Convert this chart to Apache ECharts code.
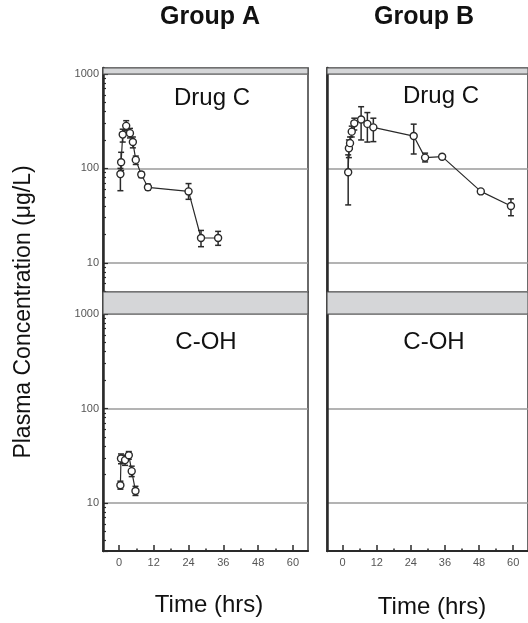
<!DOCTYPE html>
<html><head><meta charset="utf-8">
<script src="https://cdn.jsdelivr.net/npm/echarts@6/dist/echarts.min.js"></script>
<style>html,body{margin:0;padding:0;background:#fff}#c{width:528px;height:623px}</style>
</head><body><div id="c"></div>
<script>
// ---- tick labels ----
const xTickLabels = [0, 12, 24, 36, 48, 60];
const xMinorTicks = [6, 18, 30, 42, 54];
const yTickLabels = [10, 100, 1000];
const yMinorTicksTop = [5, 6, 7, 8, 9, 20, 30, 40, 50, 60, 70, 80, 90, 200, 300, 400, 500, 600, 700, 800, 900];
const yMinorTicksBot = [4, 5, 6, 7, 8, 9, 20, 30, 40, 50, 60, 70, 80, 90, 200, 300, 400, 500, 600, 700, 800, 900];
const groupNames = ['Group A', 'Group B'];
const panelNames = ['Drug C', 'C-OH'];
const yTitle = 'Plasma Concentration (\u03bcg/L)';
const xTitle = 'Time (hrs)';

// ---- Group A, Drug C ----
const aDrugTime = [0.5, 0.75, 1.3, 2.5, 3.8, 4.8, 5.8, 7.7, 10, 24, 28.3, 34.2];
const aDrugVal  = [87, 116, 228, 282, 236, 190, 123, 86, 63, 57, 18.3, 18.3];
const aDrugLow  = [58, 95, 190, 250, 210, 165, 110, 80, 59, 47, 14.8, 15.3];
const aDrugHigh = [100, 148, 260, 320, 265, 215, 135, 92, 68, 69, 22, 21.5];

// ---- Group B, Drug C ----
const bDrugTime = [1.95, 2.2, 2.6, 3.2, 4.1, 6.5, 8.7, 10.8, 25, 29, 35, 48.6, 59.2];
const bDrugVal  = [91, 163, 185, 245, 300, 330, 296, 272, 220, 130, 133, 57, 40];
const bDrugLow  = [41, 130, 160, 215, 255, 200, 190, 192, 142, 117, 127, 55, 31.5];
const bDrugHigh = [139, 200, 215, 280, 340, 450, 390, 340, 294, 145, 140, 59, 47.5];

// ---- Group A, C-OH ----
const aOhTime = [0.5, 0.7, 2.1, 3.4, 4.4, 5.7];
const aOhVal  = [15.4, 29.6, 28.4, 32, 21.7, 13.4];
const aOhLow  = [14, 26, 25, 29, 19, 12];
const aOhHigh = [17, 33, 32, 35, 24.5, 15];

// ---- axis extents ----
const xMin = -5.5, xMax = 65.2;
const topYMin = 4.9, topYMax = 1157;
const botYMin = 3.1, botYMax = 1710;

const FONT = 'Liberation Sans, Arial, sans-serif';
const dark = '#2a2a2a';

const grids = [
  {left: 103, top: 68, width: 205, height: 224},
  {left: 327, top: 68, width: 206, height: 224},
  {left: 103, top: 292, width: 205, height: 259},
  {left: 327, top: 292, width: 206, height: 259}
].map(g => Object.assign(g, {show: true, borderColor: '#3a3a3a', borderWidth: 1.5, containLabel: false}));

function mainX(gi, bottom) {
  return {
    type: 'value', gridIndex: gi, min: xMin, max: xMax, position: 'bottom',
    show: bottom,
    axisLine: {show: true, onZero: false, lineStyle: {color: dark, width: 2}},
    axisTick: {show: true, inside: true, length: 6, customValues: xTickLabels, lineStyle: {color: dark, width: 1.5}},
    axisLabel: {show: true, customValues: xTickLabels, fontFamily: FONT, fontSize: 11, color: '#555', margin: 6},
    splitLine: {show: false}
  };
}
function minorX(gi) {
  return {
    type: 'value', gridIndex: gi, min: xMin, max: xMax, position: 'bottom',
    axisLine: {show: false, onZero: false},
    axisTick: {show: true, inside: true, length: 2.5, customValues: xMinorTicks, lineStyle: {color: dark, width: 1.5}},
    axisLabel: {show: false}, splitLine: {show: false}
  };
}
function mainY(gi, mn, mx, labels) {
  return {
    type: 'log', logBase: 10, gridIndex: gi, min: mn, max: mx, position: 'left',
    axisLine: {show: true, onZero: false, lineStyle: {color: dark, width: 2.5}},
    axisTick: {show: labels, inside: true, length: 5, lineStyle: {color: dark, width: 1.2}},
    axisLabel: {show: labels, customValues: yTickLabels, formatter: v => String(v),
                fontFamily: FONT, fontSize: 11, color: '#555', margin: 4},
    splitLine: {show: true, lineStyle: {color: '#9a9a9a', width: 1.5}}
  };
}
function minorY(gi, mn, mx, ticks) {
  return {
    type: 'log', logBase: 10, gridIndex: gi, min: mn, max: mx, position: 'left', offset: 0,
    axisLine: {show: false, onZero: false},
    axisTick: {show: true, inside: true, length: 3, customValues: ticks, lineStyle: {color: dark, width: 1.2}},
    axisLabel: {show: false}, splitLine: {show: false}
  };
}

const xAxis = [mainX(0, false), mainX(1, false), mainX(2, true), mainX(3, true), minorX(2), minorX(3)];
const yAxis = [
  mainY(0, topYMin, topYMax, true), mainY(1, topYMin, topYMax, false),
  mainY(2, botYMin, botYMax, true), mainY(3, botYMin, botYMax, false),
  minorY(0, topYMin, topYMax, yMinorTicksTop), minorY(2, botYMin, botYMax, yMinorTicksBot)
];

function errRender(params, api) {
  const x = api.value(0), lo = api.value(1), hi = api.value(2);
  const p1 = api.coord([x, lo]), p2 = api.coord([x, hi]);
  const w = 3;
  const style = {stroke: dark, lineWidth: 1.5};
  return {type: 'group', children: [
    {type: 'line', shape: {x1: p1[0], y1: p1[1], x2: p2[0], y2: p2[1]}, style},
    {type: 'line', shape: {x1: p1[0] - w, y1: p1[1], x2: p1[0] + w, y2: p1[1]}, style},
    {type: 'line', shape: {x1: p2[0] - w, y1: p2[1], x2: p2[0] + w, y2: p2[1]}, style}
  ]};
}
const zip2 = (a, b) => a.map((v, i) => [v, b[i]]);
const zip3 = (a, b, c) => a.map((v, i) => [v, b[i], c[i]]);

function band(mx) {
  return {silent: true, itemStyle: {color: '#d5d6d8', borderColor: '#555', borderWidth: 1.2},
          data: [[{yAxis: 1000}, {yAxis: mx}]]};
}
function errSeries(gi, t, lo, hi) {
  return {type: 'custom', xAxisIndex: gi, yAxisIndex: gi, renderItem: errRender,
          encode: {x: 0, y: [1, 2]}, data: zip3(t, lo, hi), z: 3, silent: true};
}
function lineSeries(gi, t, v, mx) {
  return {type: 'line', xAxisIndex: gi, yAxisIndex: gi, data: zip2(t, v), z: 4,
          symbol: 'circle', symbolSize: 7, showAllSymbol: true,
          lineStyle: {color: dark, width: 1.2},
          itemStyle: {color: '#fff', borderColor: dark, borderWidth: 1.4},
          markArea: band(mx), animation: false};
}

const series = [
  errSeries(0, aDrugTime, aDrugLow, aDrugHigh), lineSeries(0, aDrugTime, aDrugVal, topYMax),
  errSeries(1, bDrugTime, bDrugLow, bDrugHigh), lineSeries(1, bDrugTime, bDrugVal, topYMax),
  errSeries(2, aOhTime, aOhLow, aOhHigh), lineSeries(2, aOhTime, aOhVal, botYMax),
  lineSeries(3, [], [], botYMax)
];

function txt(x, y, text, size, bold, rot) {
  return {type: 'text', x, y, rotation: rot || 0, z: 10,
          style: {text, fontFamily: FONT, fontSize: size, fontWeight: bold ? 'bold' : 'normal',
                  fill: '#111', align: 'center', verticalAlign: 'middle'}};
}
const graphic = [
  txt(210, 17, groupNames[0], 25, true),
  txt(424, 17, groupNames[1], 25, true),
  txt(212, 98, panelNames[0], 24),
  txt(441, 96, panelNames[0], 24),
  txt(206, 342, panelNames[1], 24),
  txt(434, 342, panelNames[1], 24),
  txt(24, 312, yTitle, 23, false, Math.PI / 2),
  txt(209, 605, xTitle, 24),
  txt(432, 607, xTitle, 24)
];

const chart = echarts.init(document.getElementById('c'), null, {renderer: 'canvas'});
chart.setOption({animation: false, backgroundColor: '#fff', grid: grids, xAxis, yAxis, series, graphic});
</script></body></html>
